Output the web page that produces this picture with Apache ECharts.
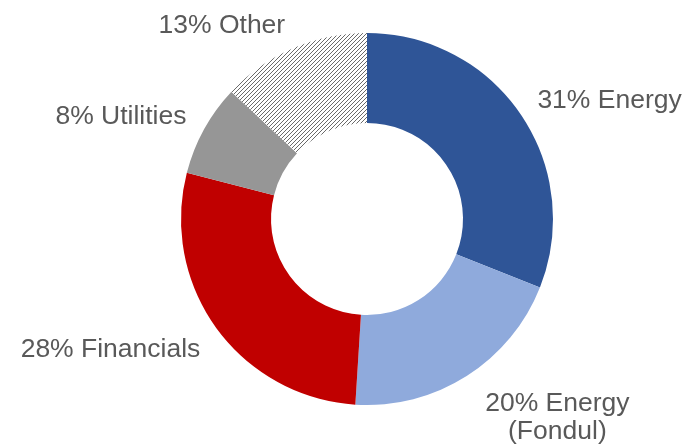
<!DOCTYPE html>
<html>
<head>
<meta charset="utf-8">
<script src="https://cdn.jsdelivr.net/npm/echarts@6/dist/echarts.min.js"></script>
<style>
  html, body { margin: 0; padding: 0; background: #fff; }
  #chart { width: 687px; height: 446px; }
</style>
</head>
<body>
<div id="chart"></div>
<script>
// sector weights, clockwise from 12 o'clock
const names = ['Energy', 'Energy\n(Fondul)', 'Financials', 'Utilities', 'Other'];
const shares = [31, 20, 28, 8, 13];
const colors = ['#2F5597', '#8FAADC', '#C00000', '#969696', null];

// hatched fill for "Other"
function hatch() {
  const c = document.createElement('canvas');
  c.width = 4;
  c.height = 4;
  const g = c.getContext('2d');
  g.fillStyle = '#fff';
  g.fillRect(0, 0, 4, 4);
  g.strokeStyle = '#6a6a6a';
  g.lineWidth = 1;
  g.beginPath();
  g.moveTo(0, 4); g.lineTo(4, 0);
  g.moveTo(-1, 1); g.lineTo(1, -1);
  g.moveTo(3, 5); g.lineTo(5, 3);
  g.stroke();
  return { image: c, repeat: 'repeat' };
}

const chart = echarts.init(document.getElementById('chart'));

// small label nudges per slice
const nudges = [
  { dy: -3 },
  { align: 'center', dx: 80, dy: 25 },
  { dy: 10 },
  { dy: -3 },
  { dy: -4 }
];

chart.setOption({
  animation: false,
  series: [{
    type: 'pie',
    center: [367, 219],
    radius: [96, 186],
    startAngle: 90,
    clockwise: true,
    avoidLabelOverlap: false,
    label: {
      show: true,
      position: 'outside',
      color: '#595959',
      fontFamily: 'Liberation Sans, Arial, sans-serif',
      fontSize: 26.5,
      lineHeight: 28,
      distanceToLabelLine: 0,
      formatter: p => p.value + '% ' + p.name
    },
    labelLine: { show: false, length: 20, length2: 0 },
    labelLayout: p => nudges[p.dataIndex],
    data: names.map((n, i) => ({
      name: n,
      value: shares[i],
      itemStyle: { color: colors[i] || hatch() }
    }))
  }]
});
</script>
</body>
</html>
